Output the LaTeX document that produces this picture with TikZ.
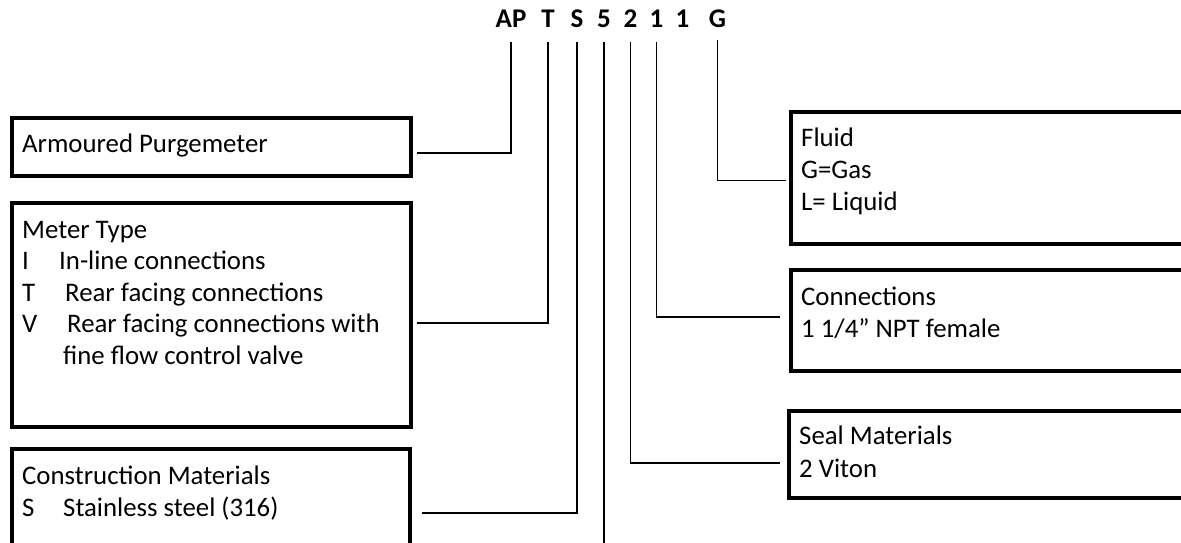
\documentclass[tikz,border=0pt]{standalone}
\usepackage{fontspec}
\setmainfont{Carlito}
\begin{document}
\begin{tikzpicture}[x=1pt,y=-1pt,
  box/.style={draw, line width=3.2pt, rectangle, anchor=north west, inner sep=0pt, outer sep=0pt},
  lbl/.style={anchor=base west, inner sep=0pt, font=\fontsize{26.8}{30}\selectfont},
  code/.style={anchor=base, inner sep=0pt, font=\fontsize{27}{30}\selectfont\bfseries},
  conn/.style={line width=1.7pt}]
\useasboundingbox (0,0) rectangle (1181,543);
\clip (0,0) rectangle (1181,543);
% code letters
\node[code] (cAP) at (511,28) {AP};
\node[code] (cT) at (548,28) {T};
\node[code] (cS) at (577,28) {S};
\node[code] (c5) at (604,28) {5};
\node[code] (c2) at (630.5,28) {2};
\node[code] (c1a) at (656.5,28) {1};
\node[code] (c1b) at (682.5,28) {1};
\node[code] (cG) at (717.5,28) {G};
% boxes
\node[box, minimum width=399pt, minimum height=58pt] (b1) at (12,118) {};
\node[box, minimum width=399pt, minimum height=224pt] (b2) at (12,203) {};
\node[box, minimum width=398pt, minimum height=120pt] (b3) at (12,449) {};
\node[box, minimum width=420pt, minimum height=132pt] (bF) at (791,112) {};
\node[box, minimum width=420pt, minimum height=101pt] (bC) at (791,270) {};
\node[box, minimum width=422pt, minimum height=87pt] (bS) at (789,411) {};
% texts
\node[lbl] (t1) at (22,152) {Armoured Purgemeter};
\node[lbl] (t2a) at (22,238) {Meter Type};
\node[lbl] (t2b) at (22,269.5) {I};
\node[lbl] (t2bb) at (59,269.5) {In-line connections};
\node[lbl] (t2c) at (22,301) {T};
\node[lbl] (t2cc) at (65,301) {Rear facing connections};
\node[lbl] (t2d) at (22,332.5) {V};
\node[lbl] (t2dd) at (67,332.5) {Rear facing connections with};
\node[lbl] (t2e) at (63,364) {fine flow control valve};
\node[lbl] (t3a) at (22,484) {Construction Materials};
\node[lbl] (t3b) at (22,516) {S};
\node[lbl] (t3bb) at (63,516) {Stainless steel (316)};
\node[lbl] (tFa) at (801,146) {Fluid};
\node[lbl] (tFb) at (801,178) {G=Gas};
\node[lbl] (tFc) at (801,210) {L= Liquid};
\node[lbl] (tCa) at (801,305) {Connections};
\node[lbl] (tCb) at (801,337) {1 1/4” NPT female};
\node[lbl] (tSa) at (799,444) {Seal Materials};
\node[lbl] (tSb) at (799,477) {2 Viton};
% connector ends
\coordinate (eAP) at (417,153);
\coordinate (eT) at (417,323);
\coordinate (eS) at (422,513);
\coordinate (e5) at (604,560);
\coordinate (e2) at (780,463);
\coordinate (e1) at (780,317);
\coordinate (eG) at (786,180.5);
% connectors
\draw[conn] ([yshift=-14pt]cAP.base) |- (eAP);
\draw[conn] ([yshift=-14pt]cT.base) |- (eT);
\draw[conn] ([yshift=-14pt]cS.base) |- (eS);
\draw[conn] ([yshift=-14pt]c5.base) -- (e5);
\draw[conn] ([yshift=-14pt]c2.base) |- (e2);
\draw[conn] ([yshift=-14pt]c1a.base) |- (e1);
\draw[conn] ([yshift=-12pt]cG.base) |- (eG);
\end{tikzpicture}
\end{document}
